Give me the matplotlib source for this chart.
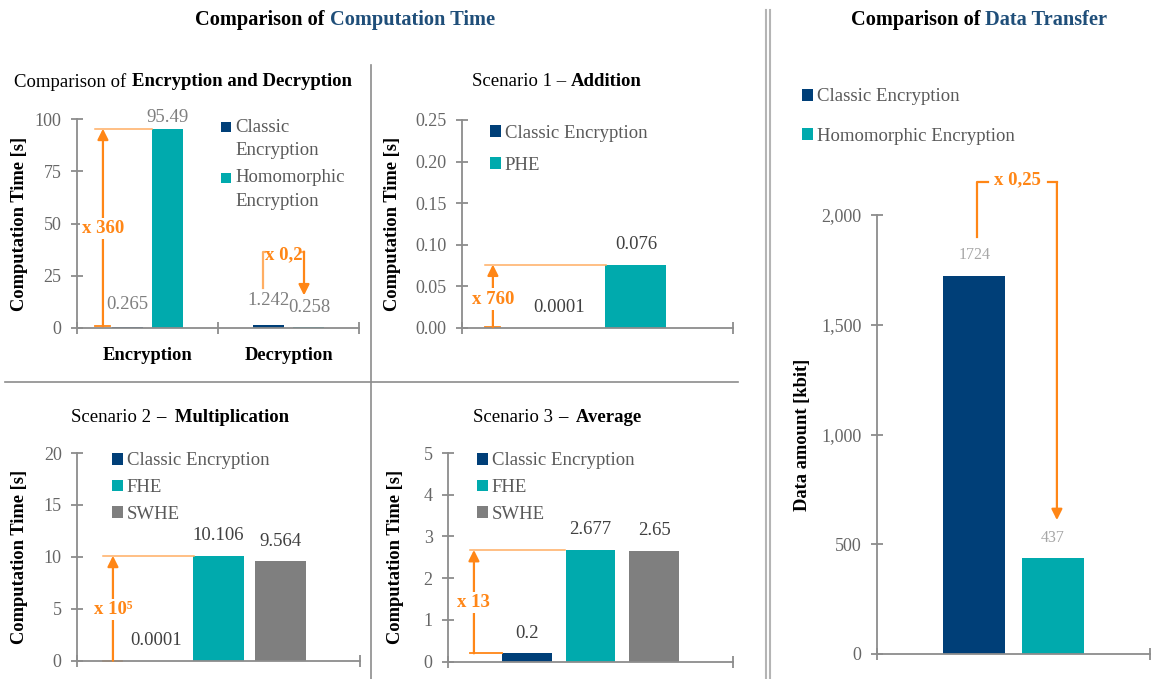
import matplotlib
matplotlib.use("Agg")
import matplotlib.pyplot as plt
from matplotlib.lines import Line2D
from matplotlib.patches import Rectangle
from matplotlib.ticker import FuncFormatter, FixedLocator
import numpy as np

# computation time, encryption vs decryption
enc_categories = ["Encryption", "Decryption"]
enc_classic = [0.265, 1.242]
enc_homomorphic = [95.49, 0.258]

# scenario 1 - addition
add_classic = [0.0001]
add_phe = [0.076]

# scenario 2 - multiplication
mul_classic = [0.0001]
mul_fhe = [10.106]
mul_swhe = [9.564]

# scenario 3 - average
avg_classic = [0.2]
avg_fhe = [2.677]
avg_swhe = [2.65]

# data transfer
transfer_classic = [1724]
transfer_he = [437]

BLUE = "#003F78"
TEAL = "#00AAAD"
GREY_BAR = "#7F7F7F"
TITLE_BLUE = "#1F4E79"
ORANGE = "#FF8616"
ORANGE_LIGHT = "#FFAE63"
AXC = "#8C8C8C"
TICKC = "#666666"
LEGC = "#595959"
VALC = "#404040"
FS = 13.5

plt.rcParams["font.family"] = ["Liberation Serif", "DejaVu Serif"]

W, H = 1151, 679
fig = plt.figure(figsize=(W / 100, H / 100), dpi=100)
renderer = fig.canvas.get_renderer()


def fx(px):
    return px / W


def fy(py):
    return 1 - py / H


def axes_px(x0, x1, ytop, ybot):
    return fig.add_axes([fx(x0), fy(ybot), (x1 - x0) / W, (ybot - ytop) / H])


def rich_text(xc, yc, parts, size):
    # draw a line made of differently styled pieces, centred on (xc, yc)
    probe = fig.text(0, 0, "a a", fontsize=size)
    probe2 = fig.text(0, 0, "aa", fontsize=size)
    space = probe.get_window_extent(renderer).width - probe2.get_window_extent(renderer).width
    probe.remove()
    probe2.remove()
    items = []
    for s, weight, color in parts:
        t = fig.text(0, fy(yc), s, fontsize=size, fontweight=weight, color=color,
                     ha="left", va="center")
        items.append((t, t.get_window_extent(renderer).width))
    total = sum(w for _, w in items) + space * (len(items) - 1)
    cur = xc - total / 2
    for t, w in items:
        t.set_x(fx(cur))
        cur += w + space


def style_axes(ax, ncat, ylim, yticks, fmt):
    for s in ("top", "right"):
        ax.spines[s].set_visible(False)
    for s in ("left", "bottom"):
        ax.spines[s].set_color(AXC)
        ax.spines[s].set_linewidth(1.3)
    ax.set_xlim(-0.5, ncat - 0.5)
    ax.set_ylim(*ylim)
    ax.set_yticks(yticks)
    ax.yaxis.set_major_formatter(FuncFormatter(fmt))
    ax.tick_params(axis="y", direction="inout", length=8, width=1.3, color=AXC,
                   labelcolor=TICKC, labelsize=13, pad=7)
    ax.set_xticks(np.arange(ncat))
    ax.xaxis.set_minor_locator(FixedLocator(np.arange(ncat + 1) - 0.5))
    ax.tick_params(axis="x", which="major", length=0, labelsize=13.3, pad=14)
    ax.tick_params(axis="x", which="minor", direction="inout", length=8, width=1.3, color=AXC)


def ylabel(ax, text, xpx, x0, x1):
    ax.set_ylabel(text, fontsize=13.3, fontweight="bold", color="black")
    ax.yaxis.label.set_va("center")
    ax.yaxis.set_label_coords((xpx - x0) / (x1 - x0), 0.5)


def legend(ax, handles, labels, xpx, ypx, spacing):
    ax.legend(handles, labels, loc="upper left", bbox_to_anchor=(fx(xpx), fy(ypx)),
              bbox_transform=fig.transFigure, frameon=False, fontsize=FS,
              handlelength=0.58, handleheight=0.58, handletextpad=0.2,
              labelspacing=spacing, borderpad=0, borderaxespad=0, labelcolor=LEGC)


def vline_arrow(ax, x, y0, y1, label, ytext, cap, top=None):
    # vertical ratio arrow with its label sitting on the shaft
    ax.annotate("", xy=(x, y1), xytext=(x, y0),
                arrowprops=dict(arrowstyle="-|>", color=ORANGE, lw=1.6,
                                mutation_scale=16, shrinkA=0, shrinkB=0),
                annotation_clip=False)
    ax.plot(cap, [y0, y0], color=ORANGE, lw=1.3, clip_on=False)
    if top is not None:
        ax.plot(top, [y1, y1], color=ORANGE_LIGHT, lw=1.1, clip_on=False)
    ax.text(x, ytext, label, color=ORANGE, fontsize=FS, fontweight="bold",
            ha="center", va="center", clip_on=False,
            bbox=dict(facecolor="white", edgecolor="none", pad=1.5))


# ---------- encryption / decryption ----------
x0, x1 = 77, 359
ax1 = axes_px(x0, x1, 119.3, 327.7)
pos = np.arange(len(enc_categories))
b1 = ax1.bar(pos - 0.145, enc_classic, 0.22, color=BLUE)
b2 = ax1.bar(pos + 0.145, enc_homomorphic, 0.22, color=TEAL)
style_axes(ax1, 2, (0, 100), [0, 25, 50, 75, 100], lambda v, p: f"{v:.0f}")
ax1.set_xticklabels(enc_categories, fontweight="bold", color="black")
ylabel(ax1, "Computation Time [s]", 20, x0, x1)
# two-line legend entries, square aligned with the first line
for colour, lines, ytop in [(BLUE, ["Classic", "Encryption"], 127),
                            (TEAL, ["Homomorphic", "Encryption"], 178)]:
    fig.add_artist(Rectangle((fx(221), fy(ytop + 5)), 10 / W, 10 / H,
                             facecolor=colour, edgecolor="none"))
    for k, line in enumerate(lines):
        fig.text(fx(235), fy(ytop + 23.5 * k), line, fontsize=FS, color=LEGC,
                 ha="left", va="center")
label_offsets = {(0, 0): 16, (0, 1): 8, (1, 0): 18, (1, 1): 14}
for s, (bars, vals) in enumerate([(b1, enc_classic), (b2, enc_homomorphic)]):
    for i, (rect, v) in enumerate(zip(bars, vals)):
        ax1.annotate(f"{v:g}", (rect.get_x() + rect.get_width() / 2, v),
                     xytext=(0, label_offsets[(i, s)]), textcoords="offset points",
                     ha="center", va="center", fontsize=FS, color="#7F7F7F")
vline_arrow(ax1, -0.316, 0.6, enc_homomorphic[0], "x 360", 47.5,
            [-0.372, -0.266], top=[-0.372, 0.035])
# decrease bracket on the decryption pair
ax1.plot([0.819, 0.819, 0.834], [19, 36.5, 36.5], color=ORANGE_LIGHT, lw=1.6, clip_on=False)
ax1.plot([1.097, 1.110], [36.5, 36.5], color=ORANGE_LIGHT, lw=1.6, clip_on=False)
ax1.annotate("", xy=(1.110, 15.5), xytext=(1.110, 36.5),
             arrowprops=dict(arrowstyle="-|>", color=ORANGE, lw=1.6,
                             mutation_scale=16, shrinkA=0, shrinkB=0),
             annotation_clip=False)
ax1.text(0.966, 35.2, "x 0,2", color=ORANGE, fontsize=FS, fontweight="bold",
         ha="center", va="center")

# ---------- scenario 1 ----------
x0, x1 = 462, 733
ax2 = axes_px(x0, x1, 120, 327.7)
c2 = ax2.bar([-0.142], add_classic, 0.225, color=BLUE)
p2 = ax2.bar([0.142], add_phe, 0.225, color=TEAL)
style_axes(ax2, 1, (0, 0.25), [0, 0.05, 0.10, 0.15, 0.20, 0.25], lambda v, p: f"{v:.2f}")
ax2.set_xticklabels([""])
ylabel(ax2, "Computation Time [s]", 393, x0, x1)
legend(ax2, [c2, p2], ["Classic Encryption", "PHE"], 490, 124.5, 0.82)
for bars in (c2, p2):
    ax2.bar_label(bars, fmt="{:g}", padding=8.5, fontsize=FS, color=VALC)
vline_arrow(ax2, -0.386, 0.0006, add_phe[0], "x 760", 0.0345,
            [-0.415, -0.36], top=[-0.415, 0.03])

# ---------- scenario 2 ----------
x0, x1 = 77, 360
ax3 = axes_px(x0, x1, 453, 660.7)
c3 = ax3.bar([-0.219], mul_classic, 0.177, color=BLUE)
f3 = ax3.bar([0.0], mul_fhe, 0.177, color=TEAL)
s3 = ax3.bar([0.219], mul_swhe, 0.177, color=GREY_BAR)
style_axes(ax3, 1, (0, 20), [0, 5, 10, 15, 20], lambda v, p: f"{v:.0f}")
ax3.set_xticklabels([""])
ylabel(ax3, "Computation Time [s]", 20, x0, x1)
legend(ax3, [c3, f3, s3], ["Classic Encryption", "FHE", "SWHE"], 112, 452.4, 0.52)
for bars in (c3, f3, s3):
    ax3.bar_label(bars, fmt="{:g}", padding=8.5, fontsize=FS, color=VALC)
vline_arrow(ax3, -0.373, 0.0, mul_fhe[0], "x 10\u2075", 4.9,
            [-0.408, -0.34], top=[-0.408, -0.088])

# ---------- scenario 3 ----------
x0, x1 = 448, 733
ax4 = axes_px(x0, x1, 453, 661.7)
c4 = ax4.bar([-0.223], avg_classic, 0.175, color=BLUE)
f4 = ax4.bar([0.0], avg_fhe, 0.175, color=TEAL)
s4 = ax4.bar([0.223], avg_swhe, 0.175, color=GREY_BAR)
style_axes(ax4, 1, (0, 5), [0, 1, 2, 3, 4, 5], lambda v, p: f"{v:.0f}")
ax4.set_xticklabels([""])
ylabel(ax4, "Computation Time [s]", 395, x0, x1)
legend(ax4, [c4, f4, s4], ["Classic Encryption", "FHE", "SWHE"], 477, 452.4, 0.52)
for bars in (c4, f4, s4):
    ax4.bar_label(bars, fmt="{:g}", padding=8.5, fontsize=FS, color=VALC)
vline_arrow(ax4, -0.409, avg_classic[0], avg_fhe[0], "x 13", 1.41,
            [-0.423, -0.31], top=[-0.423, -0.088])

# ---------- data transfer ----------
x0, x1 = 877, 1150
ax5 = axes_px(x0, x1, 215, 654)
c5 = ax5.bar([-0.143], transfer_classic, 0.227, color=BLUE)
h5 = ax5.bar([0.143], transfer_he, 0.227, color=TEAL)
style_axes(ax5, 1, (0, 2000), [0, 500, 1000, 1500, 2000], lambda v, p: f"{v:,.0f}")
ax5.set_xticklabels([""])
ylabel(ax5, "Data amount [kbit]", 802, x0, x1)
legend(ax5, [c5, h5], ["Classic Encryption", "Homomorphic Encryption"], 802, 88.4, 1.19)
for bars in (c5, h5):
    ax5.bar_label(bars, fmt="{:g}", padding=9, fontsize=11.5, color="#A6A6A6")
ax5.plot([-0.134, -0.134, -0.093], [1900, 2150, 2150], color=ORANGE, lw=1.6, clip_on=False)
ax5.plot([0.125, 0.159], [2150, 2150], color=ORANGE, lw=1.6, clip_on=False)
ax5.annotate("", xy=(0.159, 610), xytext=(0.159, 2150),
             arrowprops=dict(arrowstyle="-|>", color=ORANGE, lw=1.6,
                             mutation_scale=16, shrinkA=0, shrinkB=0),
             annotation_clip=False)
ax5.text(0.013, 2160, "x 0,25", color=ORANGE, fontsize=FS, fontweight="bold",
         ha="center", va="center", clip_on=False)

# ---------- titles ----------
rich_text(183, 82, [("Comparison of", "normal", "black"),
                    ("Encryption and Decryption", "bold", "black")], FS)
rich_text(557, 82, [("Scenario 1 \u2013", "normal", "black"),
                    ("Addition", "bold", "black")], FS)
rich_text(180, 417, [("Scenario 2", "normal", "black"),
                     ("\u2013  Multiplication", "bold", "black")], FS)
rich_text(557, 417, [("Scenario 3", "normal", "black"),
                     ("\u2013  Average", "bold", "black")], FS)
rich_text(345, 20, [("Comparison of", "bold", "black"),
                    ("Computation Time", "bold", TITLE_BLUE)], 14.7)
rich_text(979, 20, [("Comparison of", "bold", "black"),
                    ("Data Transfer", "bold", TITLE_BLUE)], 14.7)

# ---------- dividers ----------
for xs, ys, c, lw in [((370.7, 370.7), (65, 679), AXC, 1.2),
                      ((5, 738), (381.7, 381.7), AXC, 1.2),
                      ((765.7, 765.7), (10, 679), "#B4B4B4", 1.5),
                      ((770, 770), (10, 679), "#B4B4B4", 1.5)]:
    fig.add_artist(Line2D([fx(x) for x in xs], [fy(y) for y in ys], color=c, lw=lw))

fig.savefig("out.png", dpi=100)
